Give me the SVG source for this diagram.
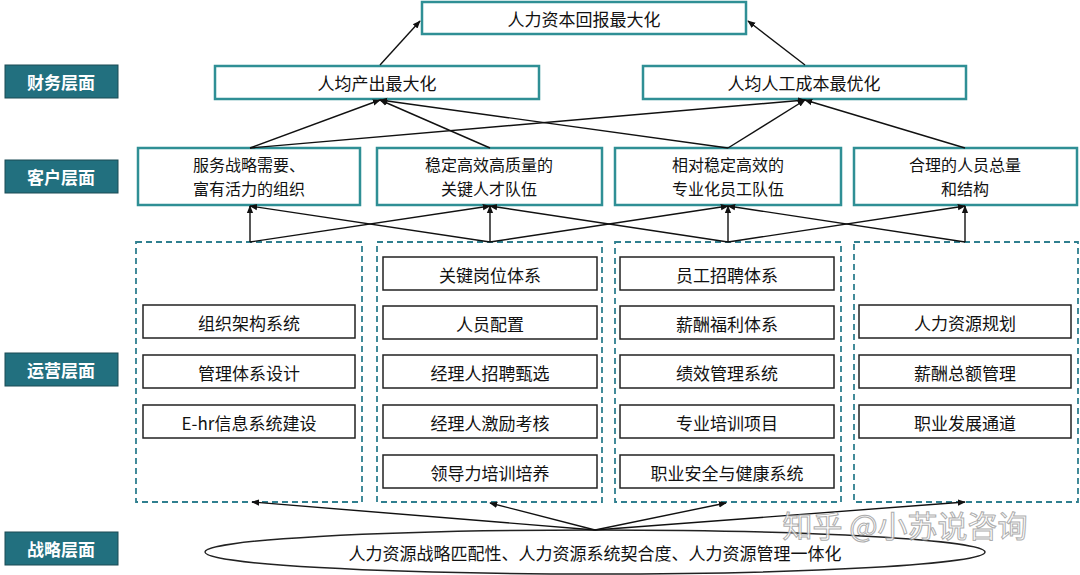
<svg xmlns="http://www.w3.org/2000/svg" width="1080" height="575" viewBox="0 0 1080 575">
<style>
text{font-family:"Noto Sans CJK SC","Liberation Sans",sans-serif;font-size:17px;fill:#111;text-anchor:middle;dominant-baseline:central}
.t{fill:#fff;stroke:#2f8f95;stroke-width:2.5}
.side rect{fill:#22707f;stroke:#1a4a55;stroke-width:1}
.side text{fill:#fff;font-weight:bold}
.d{fill:#fff;stroke:#2f7f8f;stroke-width:1.8;stroke-dasharray:6 4}
.i{fill:#fff;stroke:#222;stroke-width:1.5}
.c line{stroke:#111;stroke-width:1.4;marker-end:url(#a)}
.m{font-size:16px}
</style>
<defs><marker id="a" viewBox="0 0 10 10" refX="9" refY="5" markerWidth="8" markerHeight="8" orient="auto-start-reverse" markerUnits="userSpaceOnUse"><path d="M0,1 L10,5 L0,9 z" fill="#111"/></marker></defs>
<rect width="1080" height="575" fill="#fff"/>
<g class="side">
<g id="s1"><rect x="5" y="65" width="113" height="33"/><text x="61" y="81">财务层面</text></g>
<g id="s2"><rect x="5" y="160" width="113" height="33"/><text x="61" y="176">客户层面</text></g>
<g id="s3"><rect x="5" y="353" width="113" height="33"/><text x="61" y="369">运营层面</text></g>
<g id="s4"><rect x="5" y="532" width="113" height="33"/><text x="61" y="548">战略层面</text></g>
</g>
<g id="top"><rect class="t" x="422" y="2" width="324" height="32"/><text x="584" y="18">人力资本回报最大化</text></g>
<g id="f1"><rect class="t" x="215" y="66" width="324" height="33"/><text x="377" y="82">人均产出最大化</text></g>
<g id="f2"><rect class="t" x="643" y="66" width="323" height="33"/><text x="804" y="82">人均人工成本最优化</text></g>
<g id="c1"><rect class="t" x="138" y="148" width="222" height="57"/><text class="m" x="249" y="164">服务战略需要、</text><text class="m" x="249" y="188">富有活力的组织</text></g>
<g id="c2"><rect class="t" x="377" y="148" width="225" height="57"/><text class="m" x="489" y="164">稳定高效高质量的</text><text class="m" x="489" y="188">关键人才队伍</text></g>
<g id="c3"><rect class="t" x="615" y="148" width="226" height="57"/><text class="m" x="728" y="164">相对稳定高效的</text><text class="m" x="728" y="188">专业化员工队伍</text></g>
<g id="c4"><rect class="t" x="854" y="148" width="223" height="57"/><text class="m" x="965" y="164">合理的人员总量</text><text class="m" x="965" y="188">和结构</text></g>
<g id="o1"><rect class="d" x="136" y="242" width="226" height="260"/>
<rect class="i" x="143" y="305" width="212" height="33"/><text x="249" y="322">组织架构系统</text>
<rect class="i" x="143" y="355" width="212" height="33"/><text x="249" y="372">管理体系设计</text>
<rect class="i" x="143" y="405" width="212" height="33"/><text x="249" y="422">E-hr信息系统建设</text></g>
<g id="o2"><rect class="d" x="377" y="242" width="225" height="260"/>
<rect class="i" x="383" y="257" width="214" height="33"/><text x="490" y="274">关键岗位体系</text>
<rect class="i" x="383" y="306" width="214" height="33"/><text x="490" y="323">人员配置</text>
<rect class="i" x="383" y="355" width="214" height="33"/><text x="490" y="372">经理人招聘甄选</text>
<rect class="i" x="383" y="405" width="214" height="33"/><text x="490" y="422">经理人激励考核</text>
<rect class="i" x="383" y="455" width="214" height="33"/><text x="490" y="472">领导力培训培养</text></g>
<g id="o3"><rect class="d" x="615" y="242" width="226" height="260"/>
<rect class="i" x="620" y="257" width="214" height="33"/><text x="727" y="274">员工招聘体系</text>
<rect class="i" x="620" y="306" width="214" height="33"/><text x="727" y="323">薪酬福利体系</text>
<rect class="i" x="620" y="355" width="214" height="33"/><text x="727" y="372">绩效管理系统</text>
<rect class="i" x="620" y="405" width="214" height="33"/><text x="727" y="422">专业培训项目</text>
<rect class="i" x="620" y="455" width="214" height="33"/><text x="727" y="472">职业安全与健康系统</text></g>
<g id="o4"><rect class="d" x="854" y="242" width="224" height="260"/>
<rect class="i" x="859" y="305" width="212" height="33"/><text x="965" y="322">人力资源规划</text>
<rect class="i" x="859" y="355" width="212" height="33"/><text x="965" y="372">薪酬总额管理</text>
<rect class="i" x="859" y="405" width="212" height="33"/><text x="965" y="422">职业发展通道</text></g>
<g id="st"><ellipse cx="595" cy="552" rx="390" ry="22" fill="#fff" stroke="#222" stroke-width="1.5"/><text x="595" y="552">人力资源战略匹配性、人力资源系统契合度、人力资源管理一体化</text></g>
<g class="c">
<line x1="380" y1="65" x2="420" y2="21"/>
<line x1="805" y1="65" x2="748" y2="21"/>
<line x1="250" y1="148" x2="380" y2="100"/>
<line x1="250" y1="148" x2="805" y2="100"/>
<line x1="490" y1="148" x2="380" y2="100"/>
<line x1="728" y1="148" x2="380" y2="100"/>
<line x1="728" y1="148" x2="805" y2="100"/>
<line x1="965" y1="148" x2="805" y2="100"/>
<line x1="250" y1="242" x2="250" y2="206"/>
<line x1="250" y1="242" x2="490" y2="206"/>
<line x1="490" y1="242" x2="250" y2="206"/>
<line x1="490" y1="242" x2="490" y2="206"/>
<line x1="490" y1="242" x2="728" y2="206"/>
<line x1="728" y1="242" x2="490" y2="206"/>
<line x1="728" y1="242" x2="728" y2="206"/>
<line x1="728" y1="242" x2="965" y2="206"/>
<line x1="965" y1="242" x2="728" y2="206"/>
<line x1="965" y1="242" x2="965" y2="206"/>
<line x1="595" y1="530" x2="252" y2="502"/>
<line x1="595" y1="530" x2="490" y2="503"/>
<line x1="595" y1="530" x2="726" y2="503"/>
<line x1="595" y1="530" x2="965" y2="502"/>
</g>
<text x="905" y="524" style="font-size:30px;fill:#fff;stroke:#999;stroke-width:1;opacity:0.8">知乎 @小苏说咨询</text>
</svg>
